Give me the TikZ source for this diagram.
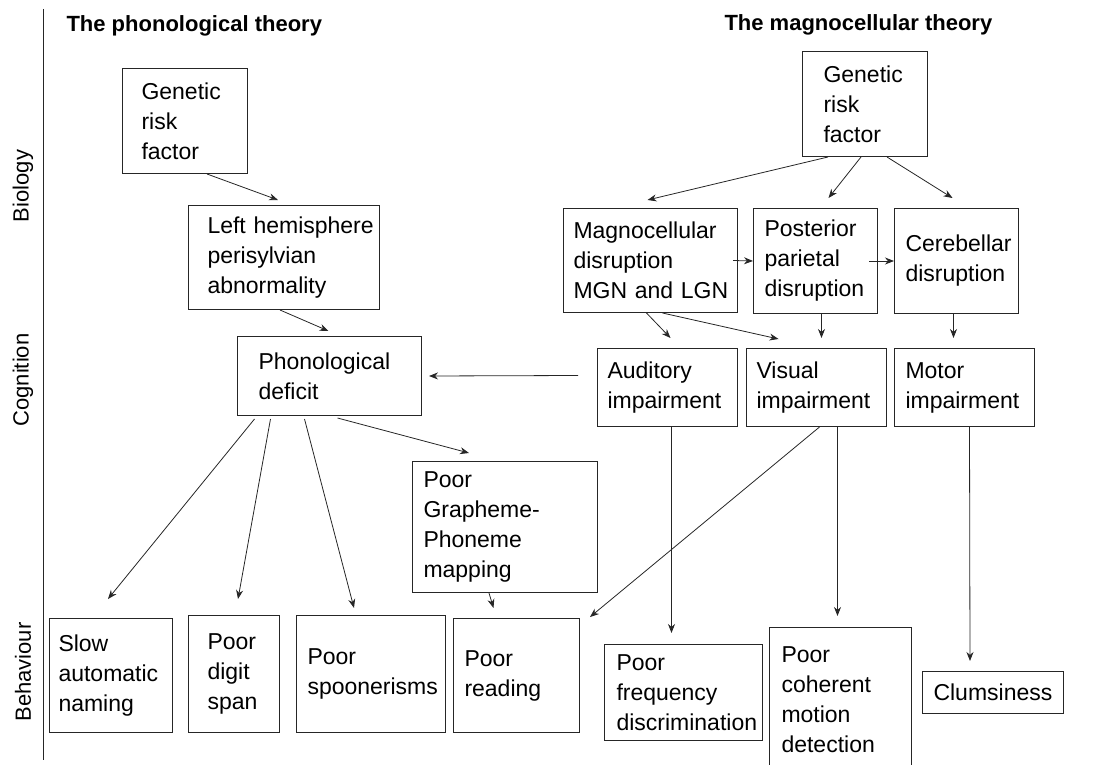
\documentclass[tikz,border=0pt]{standalone}
\usepackage{fontspec}
\setmainfont{Liberation Sans}
\usetikzlibrary{arrows.meta}
\hyphenpenalty=10000

\tikzset{
  box/.style={draw=black!85, line width=1pt, anchor=north west, align=left,
    inner ysep=4pt, font=\fontsize{23}{30}\selectfont},
  arr/.style={draw=black!85, line width=0.8pt, -{Stealth[length=9pt,width=7pt]}},
  theory/.style={anchor=west, font=\fontsize{22}{26}\selectfont\bfseries},
  level/.style={rotate=90, font=\fontsize{22}{26}\selectfont},
}

\begin{document}
\begin{tikzpicture}[x=1pt, y=-1pt]
\useasboundingbox (0,0) rectangle (1101,765);
\clip (0,0) rectangle (1101,765);
\draw[black!85, line width=1pt] (43,9) -- (43,760);
\node[level] (bio) at (23,186) {Biology};
\node[level] (cog) at (23,380) {Cognition};
\node[level] (beh) at (23,672) {Behaviour};
\node[theory] (tphon) at (63,26) {The phonological theory};
\node[theory] (tmagn) at (721,24.5) {The magnocellular theory};

% phonological theory
\node[box, inner xsep=19pt, text width=87pt, minimum height=105pt] (gena) at (122,68) {Genetic\\risk\\factor};
\node[box, inner xsep=19pt, text width=153pt, minimum height=104pt] (lhem) at (188,205) {Left~hemisphere\\perisylvian\\abnormality};
\node[box, inner xsep=21pt, text width=142pt, minimum height=79pt] (phon) at (237,336) {Phonological\\deficit};
\node[box, inner xsep=11pt, text width=163pt, minimum height=131pt] (graph) at (412,461) {Poor\\Grapheme-\\Phoneme\\mapping};
\node[box, inner xsep=9pt, text width=105pt, minimum height=114pt] (slow) at (49,618) {Slow\\automatic\\naming};
\node[box, inner xsep=19pt, text width=53pt, minimum height=117pt] (digit) at (188,615) {Poor\\digit\\span};
\node[box, inner xsep=11pt, text width=127pt, minimum height=117pt] (spoon) at (296,615) {Poor\\spoonerisms};
\node[box, inner xsep=11pt, text width=104pt, minimum height=114pt] (read) at (453,618) {Poor\\reading};

% magnocellular theory
\node[box, inner xsep=21pt, text width=83pt, minimum height=105pt] (genb) at (802,51) {Genetic\\risk\\factor};
\node[box, inner xsep=10pt, text width=154pt, minimum height=104pt] (magno) at (563,208) {Magnocellular\\disruption\\MGN~and~LGN};
\node[box, inner xsep=11pt, text width=102pt, minimum height=105pt] (post) at (753,208) {Posterior\\parietal\\disruption};
\node[box, inner xsep=11pt, text width=102pt, minimum height=105pt] (cereb) at (894,208) {Cerebellar\\disruption};
\node[box, inner xsep=10pt, text width=120pt, minimum height=78pt] (aud) at (597,348) {Auditory\\impairment};
\node[box, inner xsep=10pt, text width=120pt, minimum height=78pt] (vis) at (746,348) {Visual\\impairment};
\node[box, inner xsep=11pt, text width=118pt, minimum height=78pt] (motor) at (894,348) {Motor\\impairment};
\node[box, inner xsep=12pt, text width=134pt, minimum height=96pt] (freq) at (604,644) {Poor\\frequency\\discrimination};
\node[box, inner xsep=12pt, text width=118pt, minimum height=145pt] (coh) at (769,627) {Poor\\coherent\\motion\\detection};
\node[box, inner xsep=11pt, text width=119pt, minimum height=42pt] (clum) at (922,671) {Clumsiness};

% arrows
\draw[arr] ([xshift=22pt]gena.south) -- ([xshift=-6pt,yshift=5pt]lhem.north);
\draw[arr] ([xshift=-4pt]lhem.south) -- ([xshift=-1pt,yshift=5pt]phon.north);
\draw[arr] ([xshift=-75pt,yshift=-3pt]phon.south) -- ([xshift=-3pt,yshift=19pt]slow.north);
\draw[arr] ([xshift=-59pt,yshift=-3pt]phon.south) -- ([xshift=4pt,yshift=16pt]digit.north);
\draw[arr] ([xshift=-25pt,yshift=-3pt]phon.south) -- ([xshift=-17pt,yshift=7pt]spoon.north);
\draw[arr] ([xshift=8pt,yshift=-2pt]phon.south) -- ([xshift=-36pt,yshift=8pt]graph.north);
\draw[arr] ([xshift=-16pt]graph.south) -- ([xshift=-23pt,yshift=10pt]read.north);
\draw[arr] ([xshift=-19pt,yshift=12pt]aud.west) -- ([xshift=7pt]phon.east);
\draw[arr] ([xshift=3pt]vis.south) -- ([xshift=10pt,yshift=1pt]read.north east);
\draw[arr] ([xshift=4pt]aud.south) -- ([xshift=-12pt,yshift=11pt]freq.north);
\draw[arr] ([xshift=21pt]vis.south) -- ([xshift=-3pt,yshift=11pt]coh.north);
\draw[arr] ([xshift=5pt]motor.south) -- ([xshift=-23pt,yshift=10pt]clum.north);
\draw[arr] ([xshift=-37pt]genb.south) -- ([xshift=-3pt,yshift=8pt]magno.north);
\draw[arr] ([xshift=-4pt]genb.south) -- ([xshift=13pt,yshift=10pt]post.north);
\draw[arr] ([xshift=22pt]genb.south) -- ([xshift=-4pt,yshift=10pt]cereb.north);
\draw[arr] ([xshift=-5pt]magno.east) -- (post.west);
\draw[arr] ([xshift=-9pt]post.east) -- (cereb.west);
\draw[arr] ([xshift=-4pt]magno.south) -- ([xshift=3pt,yshift=10pt]aud.north);
\draw[arr] ([xshift=12pt]magno.south) -- ([xshift=-38pt,yshift=9pt]vis.north);
\draw[arr] ([xshift=6pt]post.south) -- ([xshift=5pt,yshift=10pt]vis.north);
\draw[arr] ([xshift=-3pt]cereb.south) -- ([xshift=-11pt,yshift=10pt]motor.north);
\end{tikzpicture}
\end{document}
